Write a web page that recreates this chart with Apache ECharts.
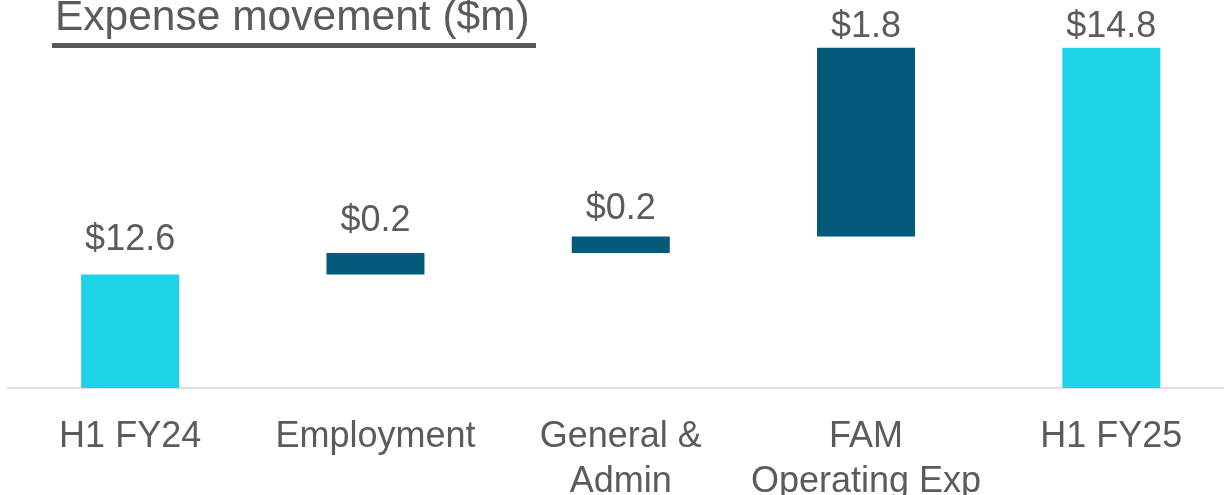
<!DOCTYPE html>
<html>
<head>
<meta charset="utf-8">
<script src="https://cdn.jsdelivr.net/npm/echarts@6/dist/echarts.min.js"></script>
<style>
  html, body { margin: 0; padding: 0; background: #fff; }
  #chart { width: 1224px; height: 495px; }
</style>
</head>
<body>
<div id="chart"></div>
<script>
// categories and values ($m)
const categories = ['H1 FY24', 'Employment', 'General &\nAdmin', 'FAM\nOperating Exp', 'H1 FY25']
const kinds = ['total', 'delta', 'delta', 'delta', 'total']
const values = [12.6, 0.21, 0.16, 1.83, 14.8]
// gap between bar top and its value label, as placed in the source slide
const labelGap = [16, 14, 9, 3, 3]

const TOTAL = '#1ED3E6'
const DELTA = '#035A7B'
const TEXT = '#5B5B5F'

// invisible base for the floating bars
let running = 0
const base = values.map((v, i) => {
  if (kinds[i] === 'total') { running = v; return 0 }
  const b = running
  running += v
  return b
})

const chart = echarts.init(document.getElementById('chart'))
chart.setOption({
  animation: false,
  title: {
    text: 'Expense movement ($m)',
    left: 50, top: -8,
    textStyle: { fontFamily: 'Liberation Sans, Arial', fontSize: 42.5, fontWeight: 'normal', color: TEXT }
  },
  graphic: [{
    type: 'rect', left: 52, top: 43,
    shape: { width: 484, height: 5 },
    style: { fill: '#58585C' }
  }],
  grid: { left: 7.5, right: -10, top: 27, bottom: 107, containLabel: false, outerBoundsMode: 'none' },
  xAxis: {
    type: 'category',
    data: categories,
    axisLine: { lineStyle: { color: '#E0E0E0', width: 2 } },
    axisTick: { show: false },
    axisLabel: {
      interval: 0, margin: 27, lineHeight: 45,
      fontFamily: 'Liberation Sans, Arial', fontSize: 36, color: TEXT
    }
  },
  yAxis: { type: 'value', min: 11.5, max: 15, show: false, splitLine: { show: false } },
  series: [
    {
      type: 'bar', stack: 'w', silent: true, barWidth: 98,
      itemStyle: { color: 'transparent' },
      data: base
    },
    {
      type: 'bar', stack: 'w', barWidth: 98,
      data: values.map((v, i) => ({
        value: v,
        itemStyle: { color: kinds[i] === 'total' ? TOTAL : DELTA },
        label: { distance: labelGap[i] }
      })),
      label: {
        show: true, position: 'top',
        fontFamily: 'Liberation Sans, Arial', fontSize: 36, color: TEXT,
        formatter: p => '$' + p.value.toFixed(1)
      }
    }
  ]
})
</script>
</body>
</html>
